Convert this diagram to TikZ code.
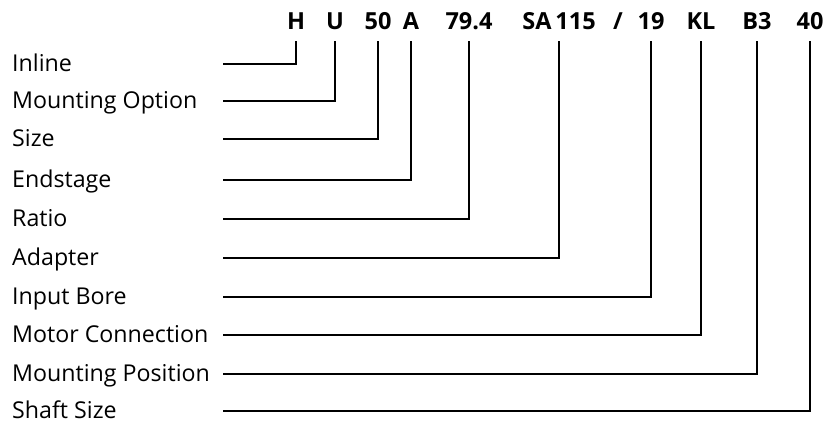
\documentclass[tikz,border=0pt]{standalone}
\usepackage{fontspec}
\setmainfont{Open Sans}
\begin{document}
\begin{tikzpicture}[x=1pt,y=-1pt,
  lab/.style={anchor=base west,inner sep=0pt,font=\fontsize{23.2}{26}\selectfont},
  code/.style={anchor=base,inner xsep=0pt,inner ysep=12pt,text height=16pt,text depth=0pt,font=\fontsize{23.5}{26}\selectfont\bfseries},
  conn/.style={line width=1.6pt,line join=miter}]
\useasboundingbox (0,0) rectangle (824,423);
% code segments
\node[code] (c1) at (296,29) {H};
\node[code] (c2) at (335,29) {U};
\node[code] (c3) at (378,29) {50};
\node[code] (c4) at (411,29) {A};
\node[code] (c5) at (469,29) {79.4};
\node[code] (c6) at (559,29) {SA\,115};
\node[code] (sl) at (618,29) {/};
\node[code] (c7) at (651,29) {19};
\node[code] (c8) at (701,29) {KL};
\node[code] (c9) at (757,29) {B3};
\node[code] (c10) at (810,29) {40};
% labels and connectors
\foreach \i/\y/\t in {1/64/Inline,2/101/Mounting Option,3/139/Size,4/180/Endstage,5/219/Ratio,6/258/Adapter,7/297/Input Bore,8/335/Motor Connection,9/374/Mounting Position,10/411/Shaft Size}{
  \node[lab] (l\i) at (12,\y+7) {\t};
  \coordinate (s\i) at (223,\y);
  \draw[conn] (s\i) -| (c\i.south);
}
\end{tikzpicture}
\end{document}
